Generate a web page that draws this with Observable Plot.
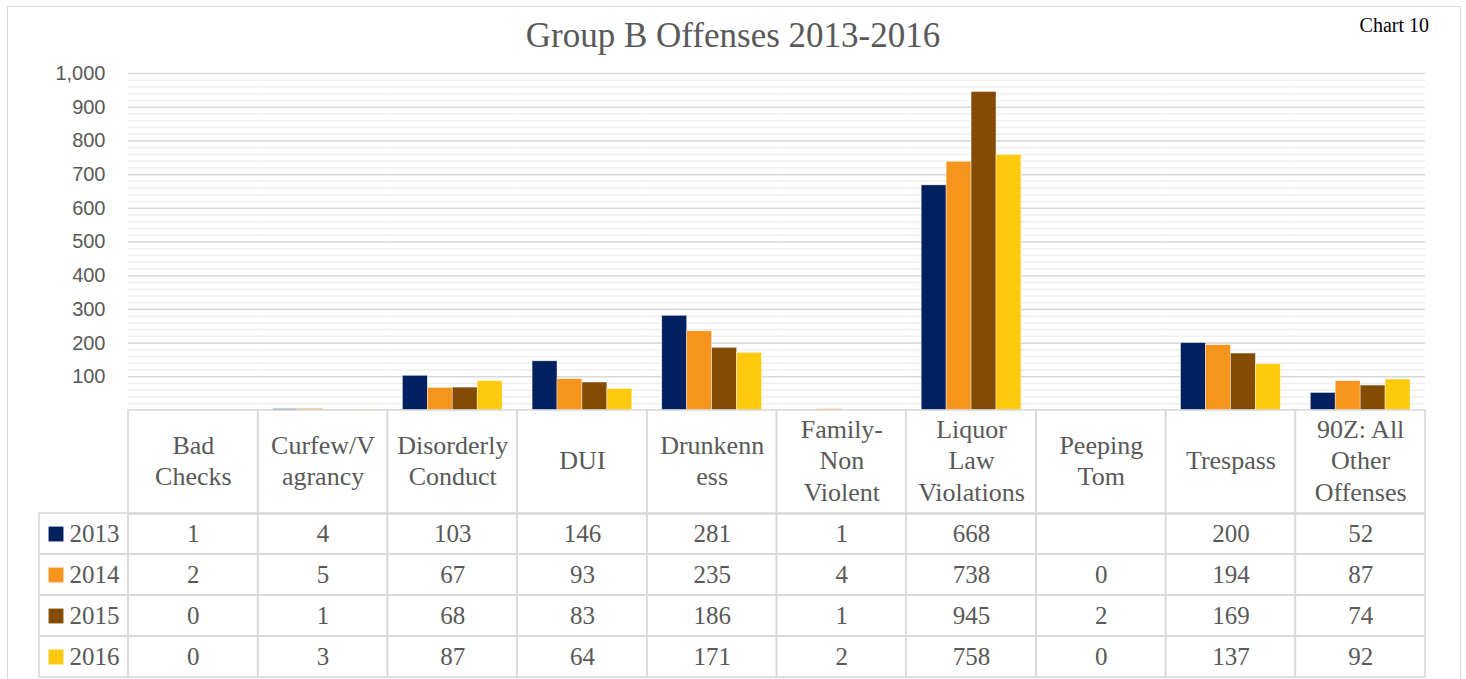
<!DOCTYPE html>
<html>
<head>
<meta charset="utf-8">
<script src="https://cdn.jsdelivr.net/npm/d3@7"></script>
<script src="https://cdn.jsdelivr.net/npm/@observablehq/plot@0.6"></script>
<style>
  html, body { margin: 0; padding: 0; background: #fff; }
  #wrap { position: relative; width: 1466px; height: 679px; overflow: hidden; }
  #frame { position: absolute; left: 7px; top: 6px; width: 1454px; height: 700px; border: 1.5px solid #d9d9d9; box-sizing: border-box; }
  #title { position: absolute; left: 0; width: 1466px; top: 14px; text-align: center; font-family: "Liberation Serif", serif; font-size: 35px; color: #595959; line-height: 44px; }
  #chartno { position: absolute; right: 37px; top: 14px; font-family: "Liberation Serif", serif; font-size: 20px; color: #000; }
  .abs { position: absolute; }
</style>
</head>
<body>
<div id="wrap">
  <div id="frame"></div>
  <div id="title">Group B Offenses 2013-2016</div>
  <div id="chartno">Chart 10</div>
  <div id="bars" class="abs" style="left:0;top:0"></div>
  <div id="head" class="abs" style="left:0;top:409px"></div>
  <div id="legend" class="abs" style="left:0;top:512px"></div>
  <div id="body" class="abs" style="left:0;top:512px"></div>
</div>
<script>
const categories = ["Bad\nChecks", "Curfew/V\nagrancy", "Disorderly\nConduct", "DUI", "Drunkenn\ness", "Family-\nNon\nViolent", "Liquor\nLaw\nViolations", "Peeping\nTom", "Trespass", "90Z: All\nOther\nOffenses"];
const years = ["2013", "2014", "2015", "2016"];
const colors = ["#002060", "#F7941E", "#844B04", "#FFC90E"];
const v2013 = [1, 4, 103, 146, 281, 1, 668, null, 200, 52];
const v2014 = [2, 5, 67, 93, 235, 4, 738, 0, 194, 87];
const v2015 = [0, 1, 68, 83, 186, 1, 945, 2, 169, 74];
const v2016 = [0, 3, 87, 64, 171, 2, 758, 0, 137, 92];
const yTicks = [100, 200, 300, 400, 500, 600, 700, 800, 900, 1000];
const yMinor = d3.range(20, 1000, 20).filter(v => v % 100 !== 0);

const series = [v2013, v2014, v2015, v2016];
const data = [];
years.forEach((yr, i) => categories.forEach((c, j) => data.push({category: c, year: yr, value: series[i][j]})));

const W = 1466, ML = 128, MR = 41;
const gray = "#d9d9d9";
const serif = "'Liberation Serif', serif";

const bars = Plot.plot({
  width: W, height: 411,
  marginLeft: ML, marginRight: MR, marginTop: 73, marginBottom: 1,
  style: {fontFamily: "'Liberation Sans', sans-serif", fontSize: "20px", color: "#595959", background: "transparent"},
  fx: {domain: categories, padding: 0, round: false, axis: null},
  x: {domain: years, paddingInner: 0, paddingOuter: 0.6, round: false, axis: null},
  y: {domain: [0, 1000], axis: null},
  color: {domain: years, range: colors},
  marks: [
    Plot.ruleY(yMinor, {stroke: "#efefef", strokeWidth: 1.5}),
    Plot.ruleY(yTicks, {stroke: gray, strokeWidth: 1.6}),
    Plot.barY(data.filter(d => d.value != null), {fx: "category", x: "year", y: "value", fill: "year", stroke: "white", strokeWidth: 0.6, strokeOpacity: 0.7}),
    Plot.axisY(yTicks, {tickSize: 0, tickPadding: 23, tickFormat: d3.format(","), fontSize: 20, label: null})
  ]
});
document.getElementById("bars").appendChild(bars);

const head = Plot.plot({
  width: W, height: 106,
  marginLeft: ML, marginRight: MR, marginTop: 1, marginBottom: 1,
  style: {fontFamily: serif, background: "transparent"},
  x: {domain: categories, padding: 0, round: false, axis: null},
  marks: [
    Plot.cell(categories, {x: d => d, fill: "none", stroke: gray, strokeWidth: 1.6}),
    Plot.text(categories, {x: d => d, text: d => d, frameAnchor: "middle", dy: -3, fontSize: 26, lineHeight: 1.2, fill: "#595959"})
  ]
});
document.getElementById("head").appendChild(head);

const body = Plot.plot({
  width: W, height: 167,
  marginLeft: ML, marginRight: MR, marginTop: 1, marginBottom: 2,
  style: {fontFamily: serif, background: "transparent"},
  x: {domain: categories, padding: 0, round: false, axis: null},
  y: {domain: years, padding: 0, round: false, axis: null},
  marks: [
    Plot.cell(data, {x: "category", y: "year", fill: "none", stroke: gray, strokeWidth: 1.6}),
    Plot.text(data, {x: "category", y: "year", text: d => d.value == null ? "" : String(d.value), fontSize: 25, fill: "#595959"})
  ]
});
document.getElementById("body").appendChild(body);

const legend = Plot.plot({
  width: ML + 1, height: 167,
  marginLeft: 39, marginRight: 1, marginTop: 1, marginBottom: 2,
  style: {fontFamily: serif, background: "transparent"},
  y: {domain: years, padding: 0, round: false, axis: null},
  color: {domain: years, range: colors},
  marks: [
    Plot.cell(years, {y: d => d, fill: "none", stroke: gray, strokeWidth: 1.6}),
    Plot.dot(years, {y: d => d, frameAnchor: "left", dx: 16.5, symbol: "square", r: 8.4, fill: d => d, stroke: "none"}),
    Plot.text(years, {y: d => d, text: d => d, frameAnchor: "left", dx: 30, textAnchor: "start", fontSize: 25, fill: "#595959"})
  ]
});
document.getElementById("legend").appendChild(legend);
</script>
</body>
</html>
